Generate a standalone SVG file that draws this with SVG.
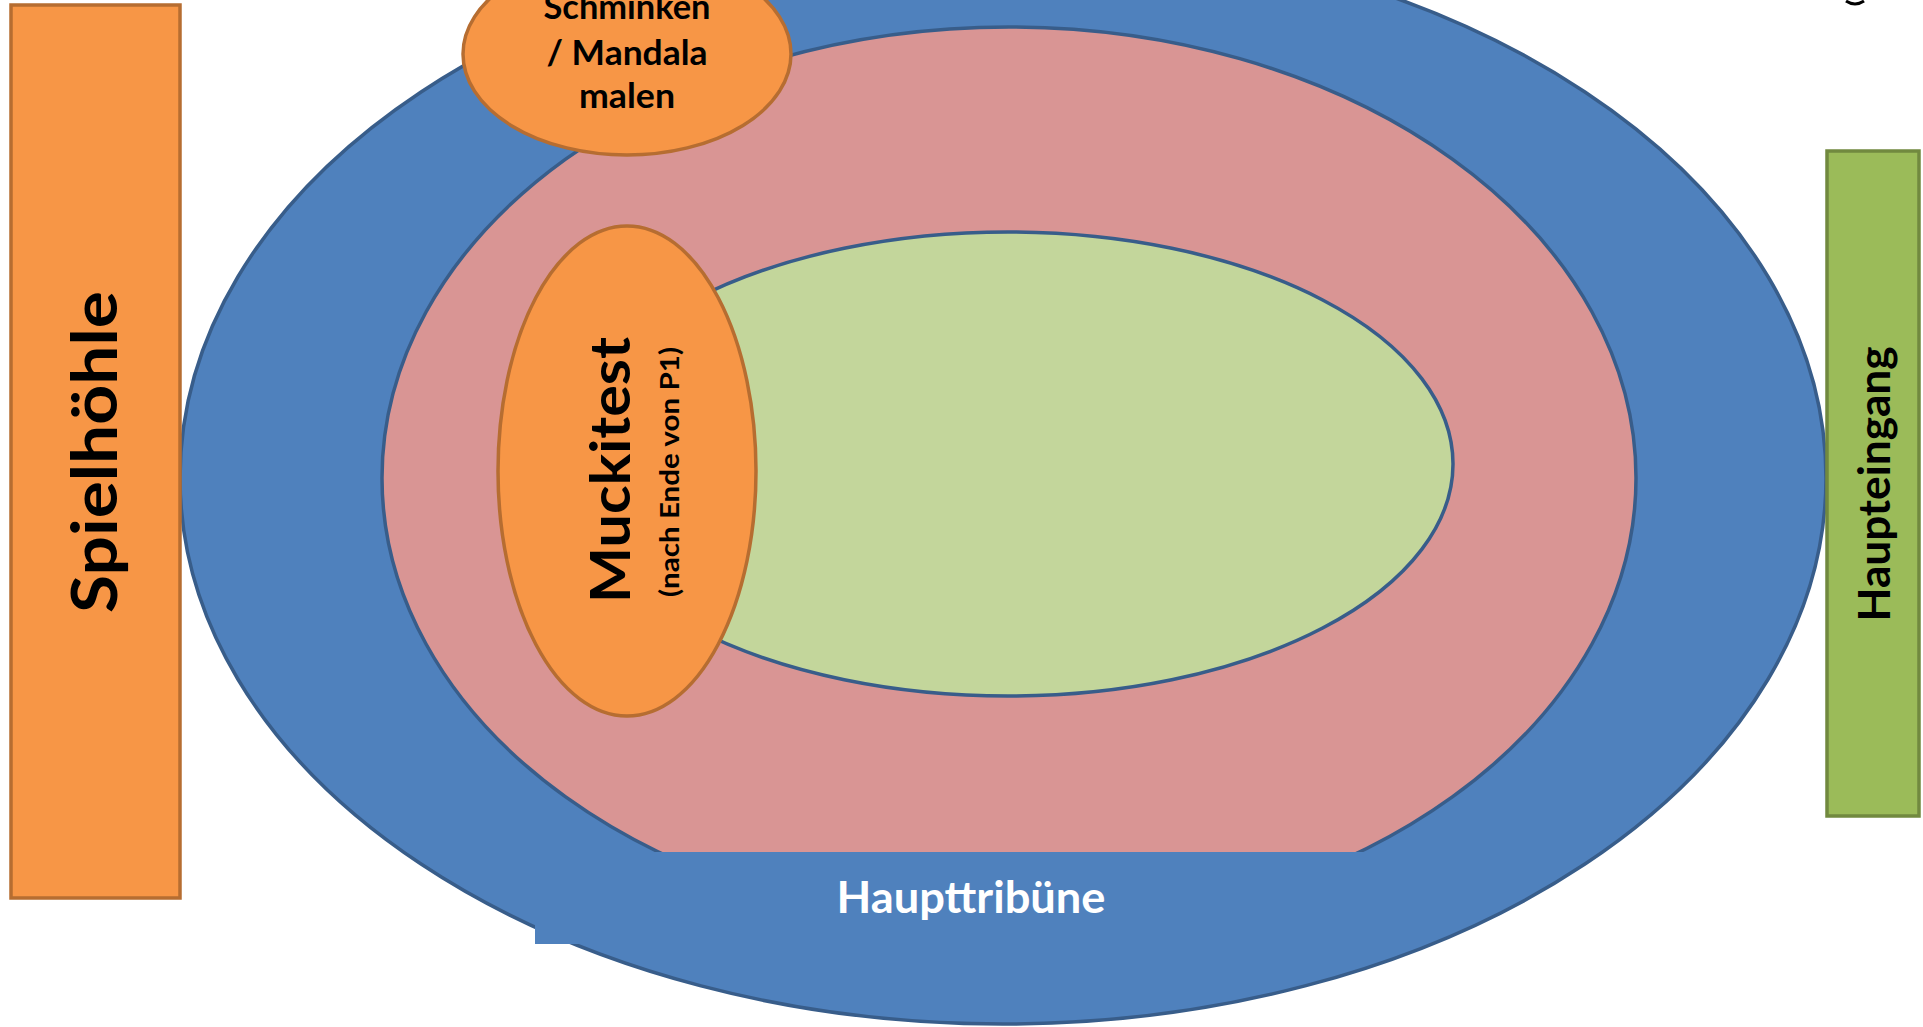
<svg xmlns="http://www.w3.org/2000/svg" width="1923" height="1027" viewBox="0 0 1923 1027">
<style>
.lbl{font-family:Lato,"Open Sans","Liberation Sans",sans-serif;font-weight:bold;fill:#000;text-anchor:middle}
.orange{fill:#F79646;stroke:#B66D31;stroke-width:3.5}
.zone{stroke:#385D8A;stroke-width:3.5}
</style>
<rect width="1923" height="1027" fill="#fff"/>
<g id="aussenring"><ellipse class="zone" cx="1003" cy="478" rx="823" ry="546" fill="#4F81BD"/></g>
<g id="laufbahn"><ellipse class="zone" cx="1009" cy="478" rx="627" ry="451" fill="#D99594"/></g>
<g id="innenfeld"><ellipse class="zone" cx="1008" cy="464" rx="445" ry="232" fill="#C3D69B"/></g>
<g id="haupttribuene">
<rect x="535" y="852" width="872" height="92" fill="#4F81BD"/>
<text class="lbl" x="971" y="913" font-size="43" fill="#fff" style="fill:#fff" textLength="269" lengthAdjust="spacingAndGlyphs">Haupttribüne</text>
</g>
<g id="muckitest">
<ellipse class="orange" cx="627" cy="471" rx="129" ry="245"/>
<text class="lbl" transform="translate(630,470) rotate(-90)" font-size="56" textLength="266" lengthAdjust="spacingAndGlyphs">Muckitest</text>
<text class="lbl" transform="translate(679,472) rotate(-90)" font-size="27" textLength="250" lengthAdjust="spacingAndGlyphs">(nach Ende von P1)</text>
</g>
<g id="schminken">
<ellipse class="orange" cx="627" cy="54" rx="164" ry="101"/>
<text class="lbl" x="627" y="19" font-size="35" textLength="167" lengthAdjust="spacingAndGlyphs">Schminken</text>
<text class="lbl" x="627" y="65" font-size="35" textLength="161" lengthAdjust="spacingAndGlyphs">/ Mandala</text>
<text class="lbl" x="627" y="108" font-size="35" textLength="96" lengthAdjust="spacingAndGlyphs">malen</text>
</g>
<g id="spielhoehle">
<rect class="orange" x="11" y="5" width="169" height="893"/>
<text class="lbl" transform="translate(117,452) rotate(-90)" font-size="63" textLength="322" lengthAdjust="spacingAndGlyphs">Spielhöhle</text>
</g>
<g id="haupteingang">
<rect x="1827" y="151" width="92" height="665" fill="#9BBB59" stroke="#71893F" stroke-width="3.5"/>
<text class="lbl" transform="translate(1890,484) rotate(-90)" font-size="43" textLength="275" lengthAdjust="spacingAndGlyphs">Haupteingang</text>
</g>
<g id="connectors"></g>
<path d="M1846,1 Q1855,7 1864,1" fill="none" stroke="#000" stroke-width="3"/>
</svg>
